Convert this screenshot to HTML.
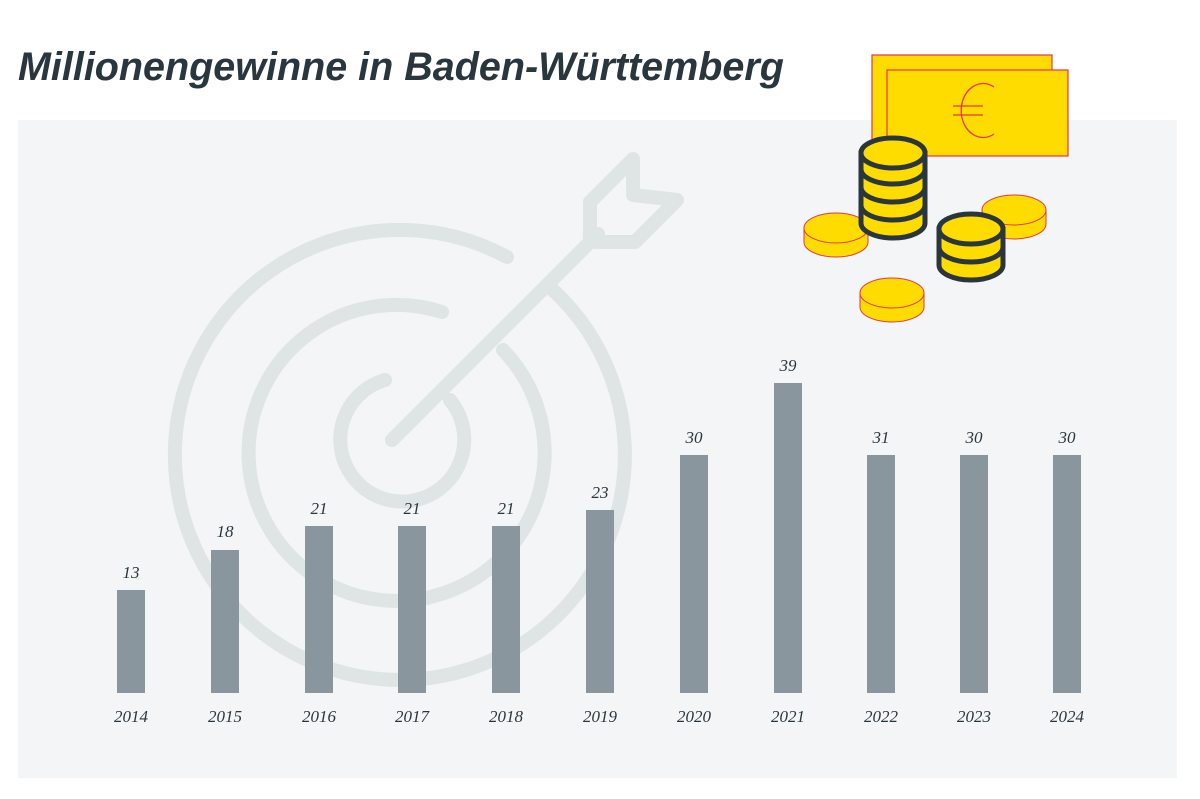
<!DOCTYPE html>
<html><head><meta charset="utf-8"><style>
body{margin:0;width:1200px;height:799px;background:#fff;overflow:hidden;position:relative;font-family:"Liberation Sans",sans-serif}
.t{position:absolute;left:18px;top:45px;font-size:39.5px;font-weight:bold;font-style:italic;color:#2a363d}
</style></head><body>
<div style="position:absolute;left:18px;top:120px;width:1159px;height:658px;background:#f3f5f7"></div>
<div class="t">Millionengewinne in Baden-Württemberg</div>
<svg width="1200" height="799" style="position:absolute;left:0;top:0">
<g fill="none" stroke="#dfe4e5" stroke-width="14" stroke-linecap="round" stroke-linejoin="round">
<path d="M 507 257 A 225 225 0 1 0 553 290"/>
<path d="M 442 312 A 148 148 0 1 0 503 350"/>
<path d="M 385 380 A 62 62 0 1 0 450 400"/>
<line x1="392" y1="440" x2="598" y2="234"/>
<path d="M 590 240 L 590 202 L 633 159 L 633 195 L 677 200 L 635 242 L 596 242"/>
</g>
<g fill="#8a969d">
<rect x="117" y="590" width="28" height="103"/>
<rect x="211" y="550" width="28" height="143"/>
<rect x="305" y="526" width="28" height="167"/>
<rect x="398" y="526" width="28" height="167"/>
<rect x="492" y="526" width="28" height="167"/>
<rect x="586" y="510" width="28" height="183"/>
<rect x="680" y="455" width="28" height="238"/>
<rect x="774" y="383" width="28" height="310"/>
<rect x="867" y="455" width="28" height="238"/>
<rect x="960" y="455" width="28" height="238"/>
<rect x="1053" y="455" width="28" height="238"/>
</g>
<g font-family="Liberation Serif,serif" font-style="italic" font-size="17" fill="#2a363d" text-anchor="middle">
<text x="131" y="578">13</text><text x="225" y="537">18</text><text x="319" y="514">21</text><text x="412" y="514">21</text><text x="506" y="514">21</text><text x="600" y="498">23</text><text x="694" y="443">30</text><text x="788" y="371">39</text><text x="881" y="443">31</text><text x="974" y="443">30</text><text x="1067" y="443">30</text>
<text x="131" y="722">2014</text><text x="225" y="722">2015</text><text x="319" y="722">2016</text><text x="412" y="722">2017</text><text x="506" y="722">2018</text><text x="600" y="722">2019</text><text x="694" y="722">2020</text><text x="788" y="722">2021</text><text x="881" y="722">2022</text><text x="974" y="722">2023</text><text x="1067" y="722">2024</text>
</g>
<g stroke="#e8344a" stroke-width="1.2" fill="#ffdc00">
<rect x="872" y="55" width="180" height="100"/>
<rect x="887" y="70" width="181" height="86"/>
</g>
<g fill="none" stroke="#e8344a" stroke-width="1.3">
<path d="M 994 87 A 22 27 0 1 0 994 134"/>
<line x1="953" y1="106" x2="983" y2="106"/><line x1="953" y1="115" x2="983" y2="115"/>
</g>
<g stroke="#e8344a" stroke-width="1" fill="#ffdc00">
<path d="M804 228 v14 a32 15 0 0 0 64 0 v-14 z"/><ellipse cx="836" cy="228" rx="32" ry="15"/>
<path d="M982 210 v14 a32 15 0 0 0 64 0 v-14 z"/><ellipse cx="1014" cy="210" rx="32" ry="15"/>
<path d="M860 293 v14 a32 15 0 0 0 64 0 v-14 z"/><ellipse cx="892" cy="293" rx="32" ry="15"/>
</g>
<g stroke="#2a363d" stroke-width="5" fill="#ffdc00">
<path d="M861 153 v70 a32 15 0 0 0 64 0 v-70 z"/>
<path d="M861 205 a32 15 0 0 0 64 0 M861 187 a32 15 0 0 0 64 0 M861 169 a32 15 0 0 0 64 0" fill="none"/>
<ellipse cx="893" cy="153" rx="32" ry="15"/>
<path d="M939 229 v36 a32 15 0 0 0 64 0 v-36 z"/>
<path d="M939 247 a32 15 0 0 0 64 0" fill="none"/>
<ellipse cx="971" cy="229" rx="32" ry="15"/>
</g>
</svg>
</body></html>
